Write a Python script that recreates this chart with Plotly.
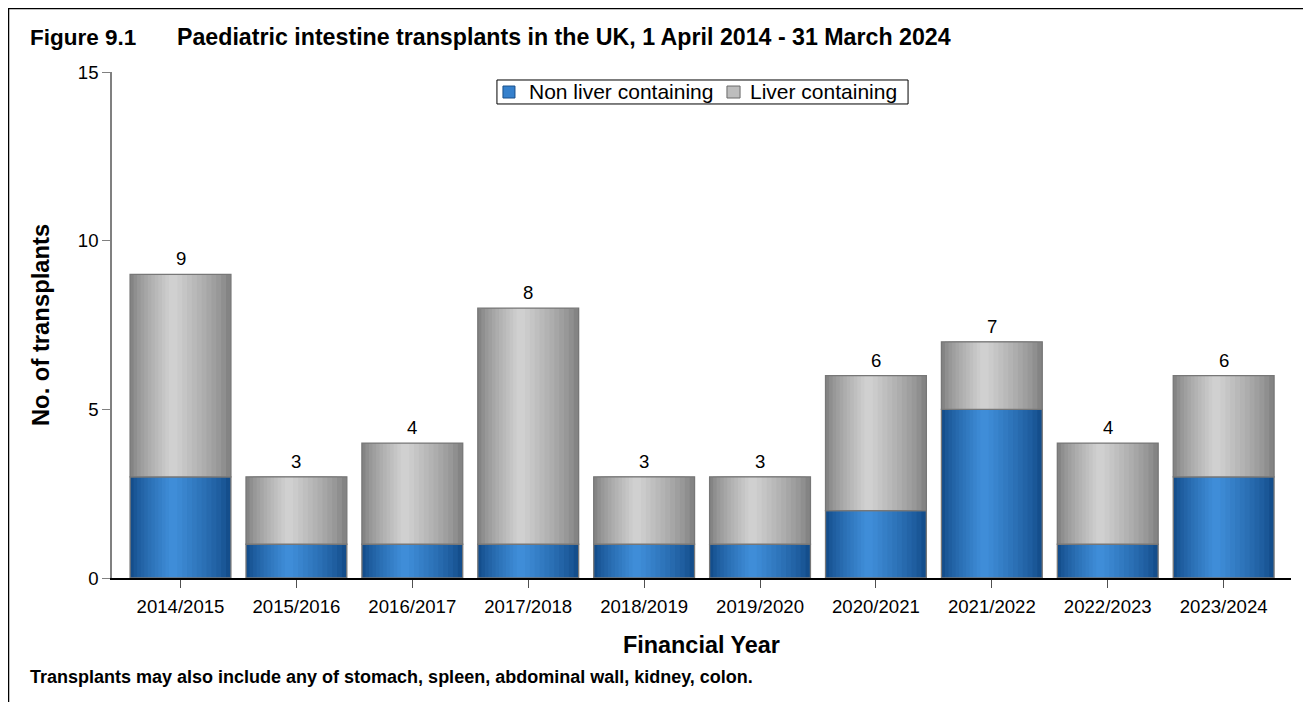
import plotly.graph_objects as go

# Financial years and transplant counts
years = ["2014/2015", "2015/2016", "2016/2017", "2017/2018", "2018/2019",
         "2019/2020", "2020/2021", "2021/2022", "2022/2023", "2023/2024"]
non_liver = [3, 1, 1, 1, 1, 1, 2, 5, 1, 3]
liver = [6, 2, 3, 7, 2, 2, 4, 2, 3, 3]
y_ticks = [0, 5, 10, 15]

totals = [a + b for a, b in zip(non_liver, liver)]

FONT = "Liberation Sans, Arial, sans-serif"
BAR_W = 0.87
N_LAYERS = 12
PEAK = 0.42  # where the highlight of the cylinder sits, from the left


def mix(c1, c2, t):
    return "rgb({},{},{})".format(*[round(a + (b - a) * t) for a, b in zip(c1, c2)])


fig = go.Figure()

series = [
    ("Non liver containing", non_liver, None, (20, 78, 140), (66, 146, 222)),
    ("Liver containing", liver, non_liver, (132, 132, 132), (214, 214, 214)),
]

for name, vals, base, edge, peak in series:
    # fake the cylinder gradient with narrowing bars drawn over each other
    for k in range(N_LAYERS):
        t = k / N_LAYERS
        left = -BAR_W / 2 + t * BAR_W * PEAK
        width = BAR_W * (1 - t)
        fig.add_trace(go.Bar(
            x=years, y=vals, base=base, name=name,
            width=width, offset=left,
            marker=dict(color=mix(edge, peak, (t ** 0.8)), line=dict(width=0)),
            showlegend=False, hoverinfo="skip",
        ))
    # outline
    fig.add_trace(go.Bar(
        x=years, y=vals, base=base, name=name,
        width=BAR_W, offset=-BAR_W / 2,
        marker=dict(color="rgba(0,0,0,0)", line=dict(color="#777777", width=1.3)),
        showlegend=False,
    ))

# totals above the bars
for yr, tot in zip(years, totals):
    fig.add_annotation(x=yr, y=tot, xref="x", yref="y", text=str(tot),
                       showarrow=False, yanchor="bottom", yshift=3,
                       font=dict(size=18.6))

# the page has an 8px body margin, so the margins are shifted by that
fig.update_layout(
    width=1311, height=702,
    barmode="overlay",
    plot_bgcolor="white", paper_bgcolor="white",
    margin=dict(l=104, r=28, t=64, b=132),
    font=dict(family=FONT, size=18.6, color="black"),
    showlegend=False,
    xaxis=dict(
        type="category", range=[-0.591, 9.581],
        showline=True, linecolor="black", linewidth=1.5,
        ticks="outside", ticklen=8, tickcolor="#505050",
        showgrid=False, zeroline=False,
        tickfont=dict(size=18.6), ticklabelstandoff=3,
    ),
    yaxis=dict(
        range=[0, 15], tickvals=y_ticks,
        showline=True, linecolor="#808080", linewidth=1.5,
        ticks="outside", ticklen=8, tickcolor="#808080",
        showgrid=False, zeroline=False,
        tickfont=dict(size=18.6),
    ),
)

annotations = [
    dict(text="<b>Figure 9.1</b>", x=-0.0712, y=1.069, xanchor="left", font=dict(size=22.5)),
    dict(text="<b>Paediatric intestine transplants in the UK, 1 April 2014 - 31 March 2024</b>",
         x=0.0534, y=1.069, xanchor="left", font=dict(size=23.2)),
    dict(text="<b>No. of transplants</b>", x=-0.061, y=0.5, xanchor="center",
         textangle=-90, font=dict(size=23.8)),
    dict(text="<b>Financial Year</b>", x=0.5, y=-0.132, xanchor="center", font=dict(size=23.4)),
    dict(text="<b>Transplants may also include any of stomach, spleen, abdominal wall, kidney, colon.</b>",
         x=-0.0712, y=-0.1957, xanchor="left", font=dict(size=18)),
    # legend labels
    dict(text="Non liver containing", x=0.352, y=0.9605, xanchor="left", font=dict(size=21)),
    dict(text="Liver containing", x=0.5394, y=0.9605, xanchor="left", font=dict(size=21)),
]
for a in annotations:
    fig.add_annotation(xref="paper", yref="paper", showarrow=False, yanchor="middle", **a)

# legend box and swatches
fig.add_shape(type="rect", xref="paper", yref="paper",
              x0=0.3265, x1=0.6752, y0=0.9368, y1=0.9842,
              line=dict(color="black", width=1), fillcolor="white")
fig.add_shape(type="rect", xref="paper", yref="paper",
              x0=0.3316, x1=0.3418, y0=0.9486, y1=0.9723,
              line=dict(color="#1a4f8a", width=1), fillcolor="#3580cc")
fig.add_shape(type="rect", xref="paper", yref="paper",
              x0=0.5216, x1=0.5327, y0=0.9486, y1=0.9723,
              line=dict(color="#6a6a6a", width=1), fillcolor="#bdbdbd")

# frame around the figure, open at the bottom
fig.add_shape(type="rect", xref="paper", yref="paper",
              x0=-0.0882, x1=1.0153, y0=-0.35, y1=1.1265,
              line=dict(color="black", width=2.5), layer="below")

fig.write_html("out.html")
